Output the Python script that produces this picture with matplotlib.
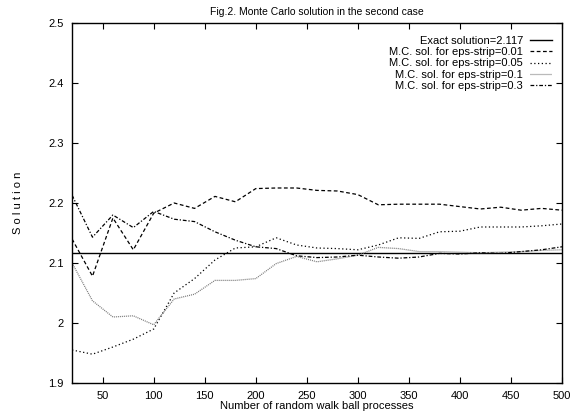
import matplotlib
matplotlib.use('Agg')
import matplotlib.pyplot as plt

plt.rcParams['font.family'] = ['Liberation Sans', 'DejaVu Sans']

# number of random walk ball processes
n_proc = [20, 40, 60, 80, 100, 120, 140, 160, 180, 200, 220, 240, 260,
          280, 300, 320, 340, 360, 380, 400, 420, 440, 460, 480, 500]

exact = 2.117

sol_001 = [2.140, 2.078, 2.175, 2.122, 2.183, 2.200, 2.191, 2.211, 2.202, 2.224,
           2.225, 2.225, 2.221, 2.220, 2.214, 2.197, 2.198, 2.198, 2.198, 2.194,
           2.190, 2.193, 2.188, 2.191, 2.188]
sol_005 = [1.955, 1.948, 1.960, 1.973, 1.990, 2.050, 2.074, 2.105, 2.125, 2.127,
           2.142, 2.130, 2.125, 2.124, 2.122, 2.130, 2.142, 2.141, 2.152, 2.153,
           2.160, 2.160, 2.160, 2.162, 2.165]
sol_01 = [2.100, 2.037, 2.010, 2.012, 1.997, 2.040, 2.048, 2.071, 2.071, 2.074,
          2.099, 2.111, 2.102, 2.107, 2.113, 2.126, 2.124, 2.119, 2.119, 2.118,
          2.117, 2.118, 2.119, 2.121, 2.122]
sol_03 = [2.213, 2.143, 2.180, 2.159, 2.186, 2.173, 2.169, 2.152, 2.138, 2.127,
          2.124, 2.112, 2.109, 2.110, 2.113, 2.110, 2.108, 2.110, 2.116, 2.115,
          2.117, 2.116, 2.119, 2.122, 2.127]

fs = 8
fig = plt.figure(figsize=(5.72, 4.12), dpi=100)
ax = fig.add_axes([0.126, 0.0704, 0.8565, 0.8738])

ax.axhline(exact, color='black', lw=1.0, label='Exact solution=2.117')
ax.plot(n_proc, sol_001, color='black', lw=0.9, dashes=(3, 2),
        label='M.C. sol. for eps-strip=0.01')
ax.plot(n_proc, sol_005, color='black', lw=0.9, dashes=(1, 2),
        label='M.C. sol. for eps-strip=0.05')
ax.plot(n_proc, sol_01, color='#777777', lw=0.9, dashes=(0.8, 0.8),
        label='M.C. sol. for eps-strip=0.1')
ax.plot(n_proc, sol_03, color='black', lw=0.9, dashes=(3, 1.5, 1, 1.5),
        label='M.C. sol. for eps-strip=0.3')

ax.set_xlim(20, 500)
ax.set_ylim(1.9, 2.5)
ax.set_xticks([50, 100, 150, 200, 250, 300, 350, 400, 450, 500])
yt = [1.9, 2.0, 2.1, 2.2, 2.3, 2.4, 2.5]
ax.set_yticks(yt)
ax.set_yticklabels(['1.9', '2', '2.1', '2.2', '2.3', '2.4', '2.5'])
ax.tick_params(direction='in', top=True, right=True, length=4, width=0.8,
               labelsize=fs, pad=6)
for s in ax.spines.values():
    s.set_linewidth(1.0)

ax.set_xlabel('Number of random walk ball processes', fontsize=fs, labelpad=0)
ax.set_ylabel('S o l u t i o n', fontsize=fs, labelpad=18)
ax.set_title('Fig.2. Monte Carlo solution in the second case', fontsize=7.5, pad=6)

ax.legend(loc='upper right', bbox_to_anchor=(0.995, 0.985), frameon=False,
          markerfirst=False, fontsize=fs, handlelength=2.0, handletextpad=0.6,
          labelspacing=0.1, borderaxespad=0.3)

fig.savefig('out.png', dpi=100)
